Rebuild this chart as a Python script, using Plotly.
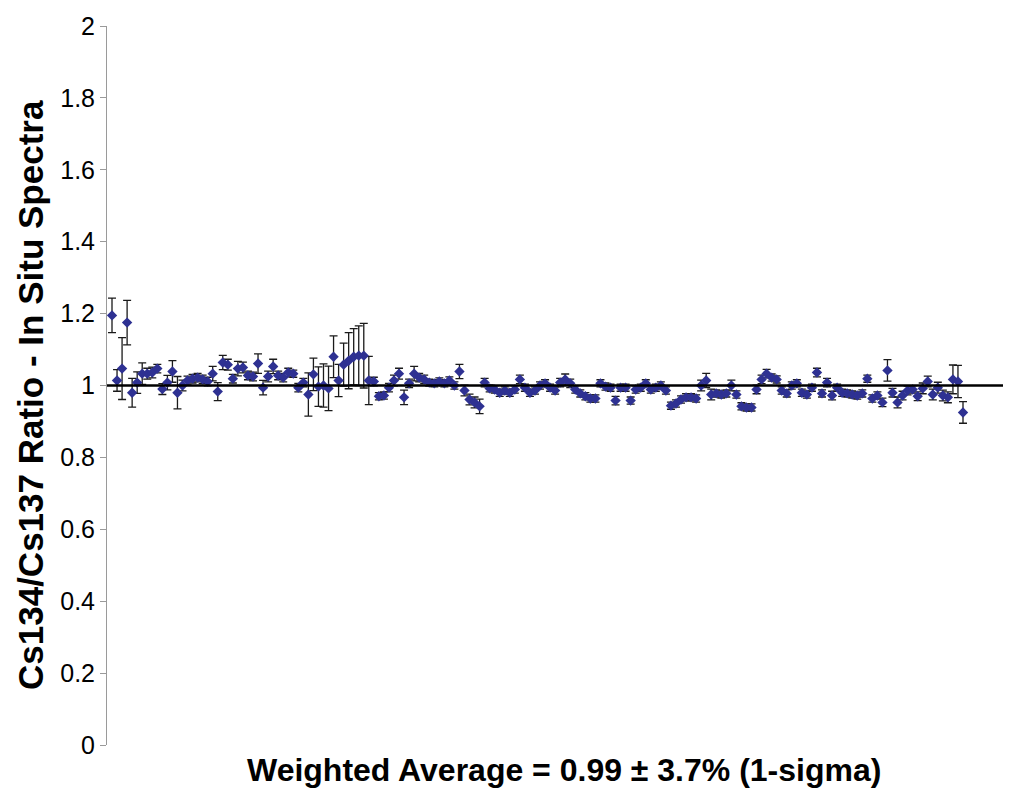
import plotly.graph_objects as go

# Cs134/Cs137 ratio per spectrum (left to right)
ratio = [
    1.195, 1.014, 1.047, 1.175, 0.980, 1.008, 1.033, 1.033, 1.036, 1.047,
    0.990, 1.008, 1.039, 0.980, 1.000, 1.014, 1.019, 1.022, 1.017, 1.011,
    1.033, 0.983, 1.064, 1.058, 1.019, 1.047, 1.050, 1.028, 1.025,
    1.061, 0.994, 1.025, 1.053, 1.028, 1.022, 1.036, 1.033, 0.994, 1.008,
    0.975, 1.031, 0.997, 1.000, 0.992, 1.080, 1.014, 1.058, 1.069, 1.080,
    1.083, 1.083, 1.014, 1.011, 0.970, 0.972,
    0.994, 1.014, 1.033, 0.967, 1.006, 1.033, 1.022, 1.017, 1.008, 1.006,
    1.011, 1.006, 1.014, 1.000, 1.039, 0.986, 0.961, 0.953, 0.942, 1.008,
    0.992, 0.989, 0.980, 0.986, 0.980, 0.989, 1.017, 0.994, 0.980, 0.986,
    1.000, 1.006, 0.994, 0.986, 1.008, 1.017, 1.006, 0.989, 0.978, 0.970,
    0.964, 0.964, 1.006, 0.997, 0.994, 0.958, 0.994, 0.994, 0.958, 0.989,
    0.994, 1.006, 0.989, 0.994, 1.000, 0.986, 0.944, 0.950, 0.961, 0.967,
    0.967, 0.964, 1.000, 1.014, 0.975, 0.978, 0.975, 0.978, 1.000, 0.975,
    0.942, 0.939, 0.939, 0.989, 1.017, 1.033, 1.022, 1.017, 0.986, 0.978,
    1.000, 1.006, 0.980, 0.975, 0.994, 1.036, 0.978, 1.008, 0.972, 0.994,
    0.980, 0.978, 0.975, 0.972, 0.978, 1.019, 0.964, 0.972, 0.953, 1.042,
    0.980, 0.953, 0.972, 0.986, 0.989, 0.970, 0.992, 1.011, 0.975, 0.994,
    0.972, 0.967, 1.017, 1.011, 0.925,
]

# 1-sigma uncertainty of each ratio
sigma = [
    0.048, 0.030, 0.086, 0.062, 0.040, 0.030, 0.030, 0.015, 0.015, 0.012,
    0.015, 0.020, 0.030, 0.045, 0.015, 0.012, 0.012, 0.012, 0.012, 0.012,
    0.020, 0.025, 0.020, 0.015, 0.012, 0.020, 0.015, 0.012, 0.012,
    0.027, 0.020, 0.015, 0.020, 0.012, 0.012, 0.012, 0.010, 0.012, 0.012,
    0.060, 0.045, 0.055, 0.060, 0.062, 0.058, 0.045, 0.060, 0.078, 0.078,
    0.083, 0.090, 0.067, 0.012, 0.010, 0.010,
    0.012, 0.015, 0.015, 0.020, 0.012, 0.020, 0.012, 0.012, 0.010, 0.010,
    0.010, 0.010, 0.010, 0.010, 0.020, 0.015, 0.015, 0.015, 0.020, 0.012,
    0.010, 0.010, 0.010, 0.010, 0.010, 0.010, 0.012, 0.010, 0.010, 0.010,
    0.010, 0.010, 0.010, 0.010, 0.012, 0.015, 0.012, 0.010, 0.010, 0.010,
    0.010, 0.010, 0.010, 0.010, 0.010, 0.012, 0.010, 0.010, 0.010, 0.010,
    0.010, 0.010, 0.010, 0.010, 0.010, 0.010, 0.010, 0.010, 0.010, 0.010,
    0.010, 0.010, 0.015, 0.020, 0.015, 0.010, 0.010, 0.010, 0.015, 0.010,
    0.010, 0.010, 0.010, 0.012, 0.012, 0.012, 0.010, 0.010, 0.010, 0.010,
    0.010, 0.010, 0.010, 0.010, 0.010, 0.012, 0.010, 0.012, 0.012, 0.010,
    0.010, 0.010, 0.010, 0.010, 0.010, 0.010, 0.010, 0.010, 0.012, 0.030,
    0.012, 0.015, 0.012, 0.012, 0.010, 0.012, 0.015, 0.015, 0.015, 0.015,
    0.015, 0.015, 0.040, 0.045, 0.030,
]

sample = list(range(1, len(ratio) + 1))
reference_level = 1.0
y_ticks = [0, 0.2, 0.4, 0.6, 0.8, 1, 1.2, 1.4, 1.6, 1.8, 2]
y_ticktext = ["0", "0.2", "0.4", "0.6", "0.8", "1", "1.2", "1.4", "1.6", "1.8", "2"]

FONT = "Liberation Sans, Arial, Helvetica, sans-serif"
N = len(ratio)

# figure sits 8px in from the page corner (body margin)
W, H = 1003, 781
L, T, B, R = 99, 18, 44, 0
PW = W - L - R
PH = H - T - B
# first point 5px right of the axis, last point 48px left of the plot edge
s = (955 - 104) / (N - 1)
x_lo = 1 - (104 - L) / s
x_hi = N + ((W - R) - 955) / s

fig = go.Figure()
fig.add_trace(go.Scatter(
    x=sample, y=ratio, mode="markers",
    marker=dict(symbol="diamond", size=8, color="#2e3192",
                line=dict(width=0)),
    error_y=dict(type="data", array=sigma, visible=True,
                 color="#1a1a1a", thickness=1.3, width=4),
    showlegend=False,
))

fig.add_shape(type="line", xref="paper", yref="y", x0=0, x1=1,
              y0=reference_level, y1=reference_level,
              line=dict(color="black", width=2.5))

fig.update_layout(
    width=W, height=H,
    margin=dict(l=L, r=R, t=T, b=B, pad=0),
    paper_bgcolor="white", plot_bgcolor="white",
    font=dict(family=FONT, color="black"),
    xaxis=dict(range=[x_lo, x_hi], showticklabels=False, showgrid=False,
               zeroline=False, showline=False, ticks=""),
    yaxis=dict(range=[0, 2], tickvals=y_ticks, ticktext=y_ticktext,
               showgrid=False, zeroline=False, showline=True,
               linecolor="#9a9a9a", linewidth=1, ticks="outside",
               ticklen=6, tickcolor="#9a9a9a",
               tickfont=dict(family=FONT, size=25, color="black")),
    annotations=[
        dict(text="<b>Weighted Average = 0.99 ± 3.7% (1-sigma)</b>",
             xref="paper", yref="paper", x=(556 - L) / PW, y=(T + PH - 762) / PH,
             xanchor="center", yanchor="middle", showarrow=False,
             font=dict(family=FONT, size=32, color="black")),
        dict(text="<b>Cs134/Cs137 Ratio - In Situ Spectra</b>",
             xref="paper", yref="paper", x=(22 - L) / PW, y=(T + PH - 387) / PH,
             xanchor="center", yanchor="middle", showarrow=False, textangle=-90,
             font=dict(family=FONT, size=35, color="black")),
    ],
)

fig.write_html("out.html")
